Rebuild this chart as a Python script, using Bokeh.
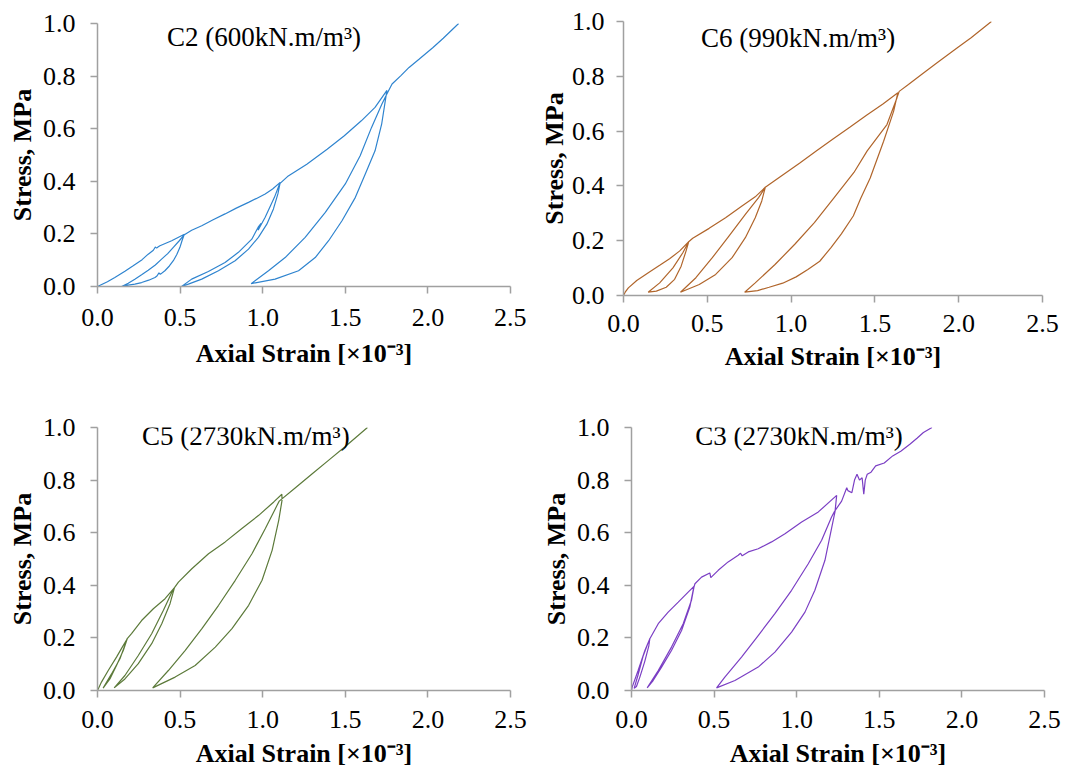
from bokeh.plotting import figure
from bokeh.layouts import column, row
from bokeh.models import Range1d, FixedTicker, Label, NumeralTickFormatter
from bokeh.embed import file_html
from bokeh.resources import INLINE

# ---------------- data ----------------
x_ticks = [0.0, 0.5, 1.0, 1.5, 2.0, 2.5]
y_ticks = [0.0, 0.2, 0.4, 0.6, 0.8, 1.0]

titles = ["C2 (600kN.m/m³)", "C6 (990kN.m/m³)", "C5 (2730kN.m/m³)", "C3 (2730kN.m/m³)"]
x_label = "Axial Strain [×10⁻³]"
y_label = "Stress, MPa"

c2_strain = [0.0, 0.06, 0.105, 0.166, 0.216, 0.27, 0.307, 0.338, 0.35, 0.358, 0.368, 0.378, 0.449, 0.526,
             0.512, 0.499, 0.480, 0.459, 0.435, 0.408, 0.380, 0.372, 0.360, 0.348, 0.310, 0.267, 0.226, 0.186, 0.146,
             0.186, 0.226, 0.267, 0.307, 0.350, 0.388, 0.425, 0.459, 0.495, 0.526,
             0.570, 0.631, 0.700, 0.772, 0.840, 0.914, 0.960, 1.015, 1.060, 1.106,
             1.092, 1.065, 1.025, 0.974, 0.914, 0.833, 0.732, 0.631, 0.550, 0.509,
             0.570, 0.671, 0.772, 0.853, 0.934, 0.975, 0.990, 0.972, 1.015, 1.071, 1.102,
             1.150, 1.267, 1.390, 1.494, 1.597, 1.680, 1.752,
             1.742, 1.720, 1.680, 1.621, 1.561, 1.480, 1.399, 1.318, 1.217, 1.075, 0.930,
             1.035, 1.136, 1.257, 1.379, 1.500, 1.590, 1.659, 1.721, 1.750,
             1.783, 1.835, 1.886, 1.948, 2.031, 2.093, 2.186]
c2_stress = [0.0, 0.018, 0.034, 0.058, 0.079, 0.102, 0.123, 0.138, 0.150, 0.146, 0.151, 0.155, 0.174, 0.199,
             0.175, 0.149, 0.122, 0.098, 0.078, 0.060, 0.046, 0.052, 0.040, 0.034, 0.024, 0.015, 0.009, 0.005, 0.0,
             0.012, 0.028, 0.045, 0.062, 0.082, 0.104, 0.125, 0.149, 0.174, 0.197,
             0.214, 0.231, 0.254, 0.276, 0.298, 0.320, 0.334, 0.352, 0.371, 0.396,
             0.352, 0.295, 0.237, 0.187, 0.142, 0.098, 0.060, 0.028, 0.009, 0.0,
             0.028, 0.057, 0.091, 0.130, 0.180, 0.228, 0.240, 0.214, 0.263, 0.339, 0.390,
             0.418, 0.465, 0.522, 0.573, 0.630, 0.681, 0.746,
             0.706, 0.617, 0.516, 0.428, 0.339, 0.250, 0.174, 0.110, 0.060, 0.028, 0.011,
             0.060, 0.110, 0.187, 0.282, 0.390, 0.497, 0.605, 0.693, 0.730,
             0.770, 0.801, 0.833, 0.865, 0.909, 0.944, 1.0]

c6_strain = [0.0, 0.010, 0.029, 0.079, 0.157, 0.216, 0.275, 0.334, 0.389,
             0.373, 0.344, 0.305, 0.255, 0.196, 0.147,
             0.216, 0.295, 0.354, 0.389,
             0.413, 0.511, 0.609, 0.707, 0.786, 0.846,
             0.825, 0.786, 0.727, 0.648, 0.550, 0.452, 0.340,
             0.432, 0.530, 0.629, 0.727, 0.806, 0.846,
             0.950, 1.050, 1.150, 1.250, 1.350, 1.450, 1.550, 1.637,
             1.612, 1.552, 1.472, 1.415, 1.371, 1.300, 1.238, 1.171, 1.100, 1.030, 0.950, 0.869, 0.800, 0.723,
             0.786, 0.904, 1.022, 1.139, 1.257, 1.375, 1.454, 1.572, 1.632, 1.645,
             1.700, 1.790, 1.873, 1.994, 2.074, 2.195]
c6_stress = [0.0, 0.012, 0.028, 0.055, 0.087, 0.110, 0.134, 0.162, 0.196,
             0.162, 0.107, 0.059, 0.030, 0.016, 0.012,
             0.046, 0.101, 0.156, 0.196,
             0.209, 0.245, 0.284, 0.327, 0.360, 0.395,
             0.345, 0.284, 0.211, 0.138, 0.077, 0.040, 0.012,
             0.065, 0.138, 0.217, 0.296, 0.357, 0.395,
             0.440, 0.483, 0.527, 0.571, 0.614, 0.658, 0.700, 0.740,
             0.673, 0.563, 0.429, 0.354, 0.290, 0.225, 0.175, 0.125, 0.095, 0.068, 0.045, 0.030, 0.018, 0.012,
             0.046, 0.113, 0.187, 0.266, 0.357, 0.449, 0.528, 0.624, 0.722, 0.745,
             0.770, 0.812, 0.850, 0.905, 0.941, 1.0]

c5_strain = [0.0, 0.024, 0.065, 0.115, 0.150, 0.180,
             0.156, 0.115, 0.075, 0.034,
             0.085, 0.136, 0.180,
             0.206, 0.267, 0.338, 0.409, 0.466,
             0.439, 0.389, 0.328, 0.247, 0.166, 0.101,
             0.166, 0.247, 0.328, 0.399, 0.460, 0.466,
             0.490, 0.571, 0.672, 0.773, 0.874, 0.976, 1.067, 1.116,
             1.117, 1.097, 1.057, 0.996, 0.915, 0.814, 0.713, 0.591, 0.470, 0.334,
             0.429, 0.530, 0.632, 0.733, 0.834, 0.935, 1.016, 1.087, 1.100,
             1.200, 1.300, 1.400, 1.500, 1.634]
c5_stress = [0.0, 0.032, 0.076, 0.127, 0.165, 0.197,
             0.152, 0.095, 0.044, 0.009,
             0.063, 0.121, 0.197,
             0.216, 0.266, 0.311, 0.349, 0.391,
             0.330, 0.254, 0.178, 0.102, 0.044, 0.010,
             0.057, 0.133, 0.216, 0.305, 0.387, 0.391,
             0.412, 0.463, 0.520, 0.565, 0.616, 0.666, 0.717, 0.746,
             0.723, 0.647, 0.533, 0.419, 0.324, 0.235, 0.165, 0.095, 0.051, 0.010,
             0.076, 0.152, 0.235, 0.324, 0.419, 0.520, 0.616, 0.704, 0.720,
             0.772, 0.824, 0.876, 0.928, 1.0]

c3_strain = [0.0, 0.004, 0.040, 0.081, 0.111,
             0.105, 0.080, 0.050, 0.030, 0.016,
             0.040, 0.070, 0.100, 0.111,
             0.162, 0.222, 0.283, 0.343, 0.378,
             0.353, 0.303, 0.242, 0.182, 0.131, 0.095,
             0.162, 0.242, 0.313, 0.363, 0.378,
             0.384, 0.424, 0.474, 0.480, 0.525, 0.585, 0.646, 0.660, 0.670, 0.707, 0.767, 0.848, 0.929, 1.030, 1.131, 1.242,
             1.232, 1.221, 1.171, 1.110, 1.050, 0.969, 0.868, 0.767, 0.626, 0.515,
             0.565, 0.666, 0.767, 0.868, 0.969, 1.070, 1.151, 1.211, 1.230,
             1.272, 1.303, 1.310, 1.334, 1.350, 1.365, 1.380, 1.396, 1.406, 1.415, 1.427, 1.450, 1.478,
             1.530, 1.581, 1.630, 1.685, 1.730, 1.767, 1.819]
c3_stress = [0.0, 0.013, 0.076, 0.152, 0.197,
             0.170, 0.110, 0.050, 0.015, 0.008,
             0.060, 0.130, 0.180, 0.197,
             0.254, 0.298, 0.336, 0.374, 0.396,
             0.317, 0.228, 0.152, 0.089, 0.038, 0.010,
             0.076, 0.165, 0.254, 0.343, 0.393,
             0.406, 0.431, 0.447, 0.429, 0.457, 0.489, 0.514, 0.522, 0.512, 0.527, 0.539, 0.565, 0.596, 0.641, 0.679, 0.742,
             0.680, 0.647, 0.495, 0.381, 0.298, 0.222, 0.146, 0.089, 0.038, 0.010,
             0.051, 0.127, 0.209, 0.292, 0.381, 0.482, 0.571, 0.660, 0.682,
             0.720, 0.771, 0.760, 0.752, 0.800, 0.822, 0.800, 0.809, 0.746, 0.800, 0.822, 0.830, 0.854,
             0.865, 0.892, 0.910, 0.936, 0.960, 0.981, 1.0]

colors = ["#2F84CF", "#B0652B", "#5C7A3A", "#7B3FC4"]

SERIF = "Liberation Serif"


def make_fig(xs, ys, color, title, tx, ty, fw, fh, left, right, top, bottom,
             x_stand, x_lstand, y_stand, y_lstand):
    p = figure(frame_width=fw, frame_height=fh,
               min_border_left=left, min_border_right=right,
               min_border_top=top, min_border_bottom=bottom,
               x_range=Range1d(0, 2.5), y_range=Range1d(0, 1.0),
               output_backend="svg", toolbar_location=None)
    if "frame_align" in p.properties():
        p.frame_align = False
    p.outline_line_color = None
    p.xgrid.visible = False
    p.ygrid.visible = False
    p.background_fill_color = "white"
    p.border_fill_color = "white"

    p.line(xs, ys, line_color=color, line_width=1.2)

    for ax, ticks in ((p.xaxis, x_ticks), (p.yaxis, y_ticks)):
        ax.ticker = FixedTicker(ticks=ticks)
        ax.formatter = NumeralTickFormatter(format="0.0")
        ax.minor_tick_line_color = None
        ax.major_tick_in = 0
        ax.major_tick_out = 7
        ax.axis_line_color = "#A0A0A0"
        ax.axis_line_width = 1.5
        ax.major_tick_line_color = "#A0A0A0"
        ax.major_tick_line_width = 1.5
        ax.major_label_text_font = SERIF
        ax.major_label_text_font_size = "26px"
        ax.major_label_text_color = "black"
        ax.axis_label_text_font = SERIF
        ax.axis_label_text_font_size = "26px"
        ax.axis_label_text_font_style = "bold"
        ax.axis_label_text_color = "black"

    p.xaxis.axis_label = x_label
    p.yaxis.axis_label = y_label
    p.xaxis.major_label_standoff = x_stand
    p.xaxis.axis_label_standoff = x_lstand
    p.yaxis.major_label_standoff = y_stand
    p.yaxis.axis_label_standoff = y_lstand

    p.add_layout(Label(x=tx, y=ty, text=title, text_align="center",
                       text_baseline="alphabetic", text_font=SERIF,
                       text_font_size="27px", text_color="black"))
    return p


# frame positions follow the reference: panels at x 97-510 / 623-1042, y 23-286 / 21-295 / 427-690
p1 = make_fig(c2_strain, c2_stress, colors[0], titles[0], 1.008, 0.947,
              413, 263, 97, 16, 23, 94, 15, 10, 15, 3)
p2 = make_fig(c6_strain, c6_stress, colors[1], titles[1], 1.042, 0.939,
              419, 274, 97, 26, 21, 85, 12, 7, 12, 0)
p3 = make_fig(c5_strain, c5_stress, colors[2], titles[2], 0.898, 0.968,
              413, 263, 97, 24, 47, 83, 13, 8, 15, 3)
p4 = make_fig(c3_strain, c3_stress, colors[3], titles[3], 1.014, 0.968,
              413, 263, 97, 24, 47, 83, 13, 8, 15, 3)

layout = column(row(p1, p2), row(p3, p4))

open("out.html", "w").write(file_html(layout, INLINE))
